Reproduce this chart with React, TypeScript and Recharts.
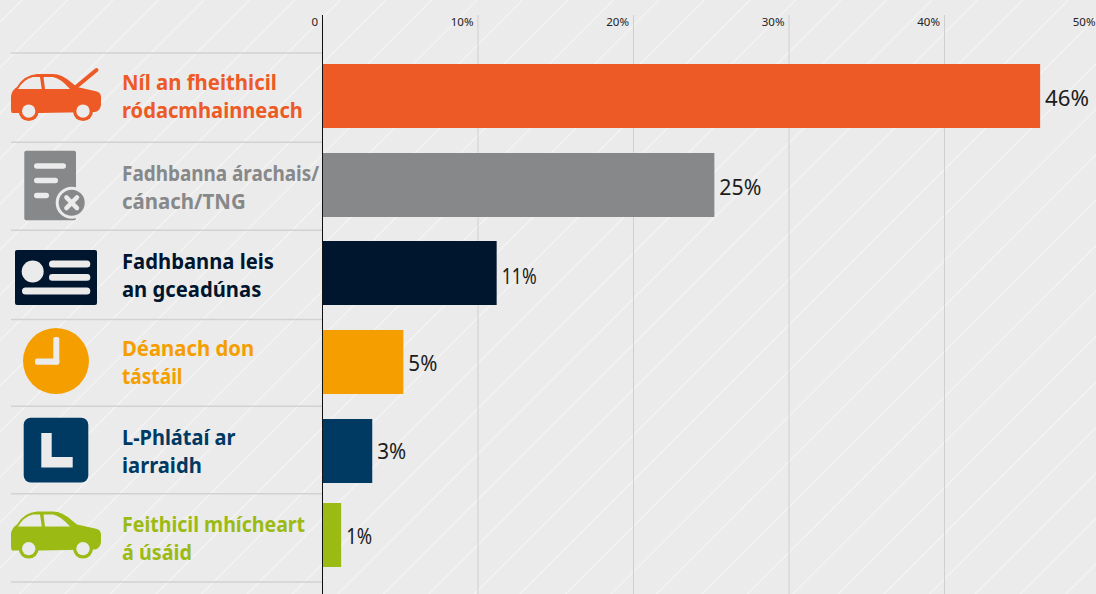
import { BarChart, Bar, XAxis, YAxis, CartesianGrid, LabelList, Rectangle } from "recharts";

const categories = [
    "Níl an fheithicil ródacmhainneach",
    "Fadhbanna árachais/ cánach/TNG",
    "Fadhbanna leis an gceadúnas",
    "Déanach don tástáil",
    "L-Phlátaí ar iarraidh",
    "Feithicil mhícheart á úsáid",
];
const firstLines = ["Níl an fheithicil", "Fadhbanna árachais/", "Fadhbanna leis", "Déanach don", "L-Phlátaí ar", "Feithicil mhícheart"];
const secondLines = ["ródacmhainneach", "cánach/TNG", "an gceadúnas", "tástáil", "iarraidh", "á úsáid"];
const barValues = [46.15, 25.2, 11.2, 5.2, 3.2, 1.2];
const valueLabels = ["46%", "25%", "11%", "5%", "3%", "1%"];
const colors = ["#ed5a25", "#87888a", "#00152e", "#f59e00", "#003a63", "#9bbb14"];
const xTicks = [0, 10, 20, 30, 40, 50];

const data = categories.map((category, i) => ({ category, value: barValues[i], label: valueLabels[i] }));

const BG = "#ebebeb";
const FONT = "'Noto Sans', sans-serif";
// the rows in the original are not quite evenly spaced
const ROW_NUDGE = [-1, 0, -0.5, 0.5, 1, -3];
const SEP_NUDGE = [0, 1, 1, 2, 0.5, 0, 0];
const TEXT_NUDGE = [-1.5, 0.5, 1, -1.5, -0.5, 2.5];
const LABEL_NUDGE = [2, 2, 3, 1, 0, 1];
// the source font is narrower than Noto Sans
const FIRST_SCALE = [0.925, 0.86, 0.92, 0.923, 0.908, 0.889];
const SECOND_SCALE = [0.916, 0.928, 0.92, 0.87, 0.918, 0.899];
const LABEL_WIDTH = [44, 42, 35, 29, 29, 26];
const stripes = Array.from({ length: 38 }, (_, i) => 22 + i * 45.5);

function Car({ color, dy }: { color: string; dy: number }) {
    return (
        <g transform={`translate(0 ${dy})`} fill={color}>
            <path d="M12 17 Q11 16 11 13 L11 0 Q12 -6 17 -9 Q24 -21 37 -22 L53 -22 Q62 -22 72 -13 L77 -9 L95 -5 Q101 -4 101 1 L101 9 Q100 15 95 16 L40 17 Z" />
            <circle cx={28.7} cy={15} r={10} />
            <circle cx={83} cy={15} r={10} />
            <circle cx={28.7} cy={15} r={6.7} fill={BG} />
            <circle cx={83} cy={15} r={6.7} fill={BG} />
            <path d="M18 -7 Q24 -17 33 -19 L40 -19 L41.7 -7 Z" fill={BG} />
            <path d="M45 -7 L43.5 -19 L53 -19 Q60 -18 70 -7 Z" fill={BG} />
        </g>
    );
}

function RowIcon({ index, color }: { index: number; color: string }) {
    if (index === 0) {
        return (
            <g>
                <Car color={color} dy={0} />
                <line x1={76} y1={-9} x2={96.5} y2={-26} stroke={color} strokeWidth={4} strokeLinecap="round" />
            </g>
        );
    }
    if (index === 1) {
        return (
            <g>
                <rect x={24.3} y={-34.5} width={51.7} height={69.5} rx={2} fill={color} />
                <rect x={34} y={-22} width={32} height={5.5} rx={2.7} fill={BG} />
                <rect x={34} y={-7.5} width={24} height={5.5} rx={2.7} fill={BG} />
                <rect x={34} y={7.5} width={15} height={5.5} rx={2.7} fill={BG} />
                <circle cx={71.7} cy={17.5} r={16} fill={BG} />
                <circle cx={71.7} cy={17.5} r={13} fill={color} />
                <path d="M66.4 12.2 L77 22.8 M77 12.2 L66.4 22.8" stroke={BG} strokeWidth={4.5} strokeLinecap="round" />
            </g>
        );
    }
    if (index === 2) {
        return (
            <g>
                <rect x={15} y={-23} width={82} height={55} rx={2} fill={color} />
                <circle cx={32.7} cy={-1.5} r={11} fill={BG} />
                <rect x={49} y={-12.5} width={41.3} height={7} rx={3.5} fill={BG} />
                <rect x={49} y={1.2} width={41.3} height={6.6} rx={3.3} fill={BG} />
                <rect x={22} y={14.5} width={68.3} height={7} rx={3.5} fill={BG} />
            </g>
        );
    }
    if (index === 3) {
        return (
            <g>
                <circle cx={56} cy={-1} r={33} fill={color} />
                <rect x={53.3} y={-25} width={6} height={27.5} rx={2} fill={BG} />
                <rect x={35} y={-3.7} width={24.3} height={6.4} rx={2} fill={BG} />
            </g>
        );
    }
    if (index === 4) {
        return (
            <g>
                <rect x={23.7} y={-33} width={64.6} height={64.7} rx={7} fill={color} />
                <path d="M41.3 -17.7 H51.7 V6.3 H72.7 V16.7 H41.3 Z" fill={BG} />
            </g>
        );
    }
    return <Car color={color} dy={-1.3} />;
}

function RowTick({ y, index }: any) {
    const color = colors[index];
    const cy = y + ROW_NUDGE[index];
    const textY = cy + TEXT_NUDGE[index];
    const top = y - 44.08 + SEP_NUDGE[index];
    const textProps = { fontFamily: FONT, fontWeight: 700, fontSize: 22, fill: color };
    return (
        <g>
            <line x1={11} x2={322} y1={top} y2={top} stroke="#d2d2d2" strokeWidth={1.5} />
            {index === categories.length - 1 && (
                <line x1={11} x2={322} y1={y + 44.08} y2={y + 44.08} stroke="#d2d2d2" strokeWidth={1.5} />
            )}
            <g transform={`translate(0 ${cy})`}>
                <RowIcon index={index} color={color} />
            </g>
            <text transform={`translate(122 ${textY - 5}) scale(${FIRST_SCALE[index]} 1)`} {...textProps}>
                {firstLines[index]}
            </text>
            <text transform={`translate(122 ${textY + 23}) scale(${SECOND_SCALE[index]} 1)`} {...textProps}>
                {secondLines[index]}
            </text>
        </g>
    );
}

function PercentTick({ x, payload }: any) {
    return (
        <text x={x - 4.5} y={25.5} textAnchor="end" fontFamily={FONT} fontSize={11.5} fill="#222">
            {payload.value === 0 ? "0" : `${payload.value}%`}
        </text>
    );
}

function NudgedBar(props: any) {
    return <Rectangle {...props} y={Math.round(props.y + ROW_NUDGE[props.index])} fill={colors[props.index]} />;
}

function ValueLabel({ x, y, width, height, value, index }: any) {
    return (
        <text
            x={x + width + 5}
            y={y + height / 2 + ROW_NUDGE[index] + LABEL_NUDGE[index] + 8}
            fontFamily={FONT}
            fontSize={22}
            fill="#1c1c1c"
            textLength={LABEL_WIDTH[index]}
            lengthAdjust="spacingAndGlyphs"
        >
            {value}
        </text>
    );
}

export default function App() {
    return (
        <div style={{ position: "fixed", left: 0, top: 0, width: 1096, height: 594, overflow: "hidden", background: BG }}>
            <svg width={1096} height={594} style={{ position: "absolute", left: 0, top: 0 }}>
                {stripes.map(s => (
                    <line key={s} x1={s} y1={0} x2={s - 594} y2={594} stroke="#f3f3f3" strokeWidth={1.5} />
                ))}
            </svg>
            <div style={{ position: "absolute", left: 0, top: 0 }}>
                <BarChart
                    width={1100}
                    height={594}
                    data={data}
                    layout="vertical"
                    margin={{ top: 0, right: 0, bottom: 0, left: 0 }}
                    barSize={64}
                >
                    <CartesianGrid horizontal={false} stroke="#cfcfcf" />
                    <XAxis
                        type="number"
                        orientation="top"
                        domain={[0, 50]}
                        ticks={xTicks}
                        height={15}
                        axisLine={false}
                        tickLine={false}
                        tick={<PercentTick />}
                        interval={0}
                    />
                    <YAxis
                        type="category"
                        dataKey="category"
                        width={322.5}
                        padding={{ top: 38, bottom: 12 }}
                        axisLine={{ stroke: "#111", strokeWidth: 1 }}
                        tickLine={false}
                        tick={<RowTick />}
                        interval={0}
                    />
                    <Bar dataKey="value" isAnimationActive={false} shape={<NudgedBar />}>
                        <LabelList dataKey="label" content={<ValueLabel />} />
                    </Bar>
                </BarChart>
            </div>
        </div>
    );
}
